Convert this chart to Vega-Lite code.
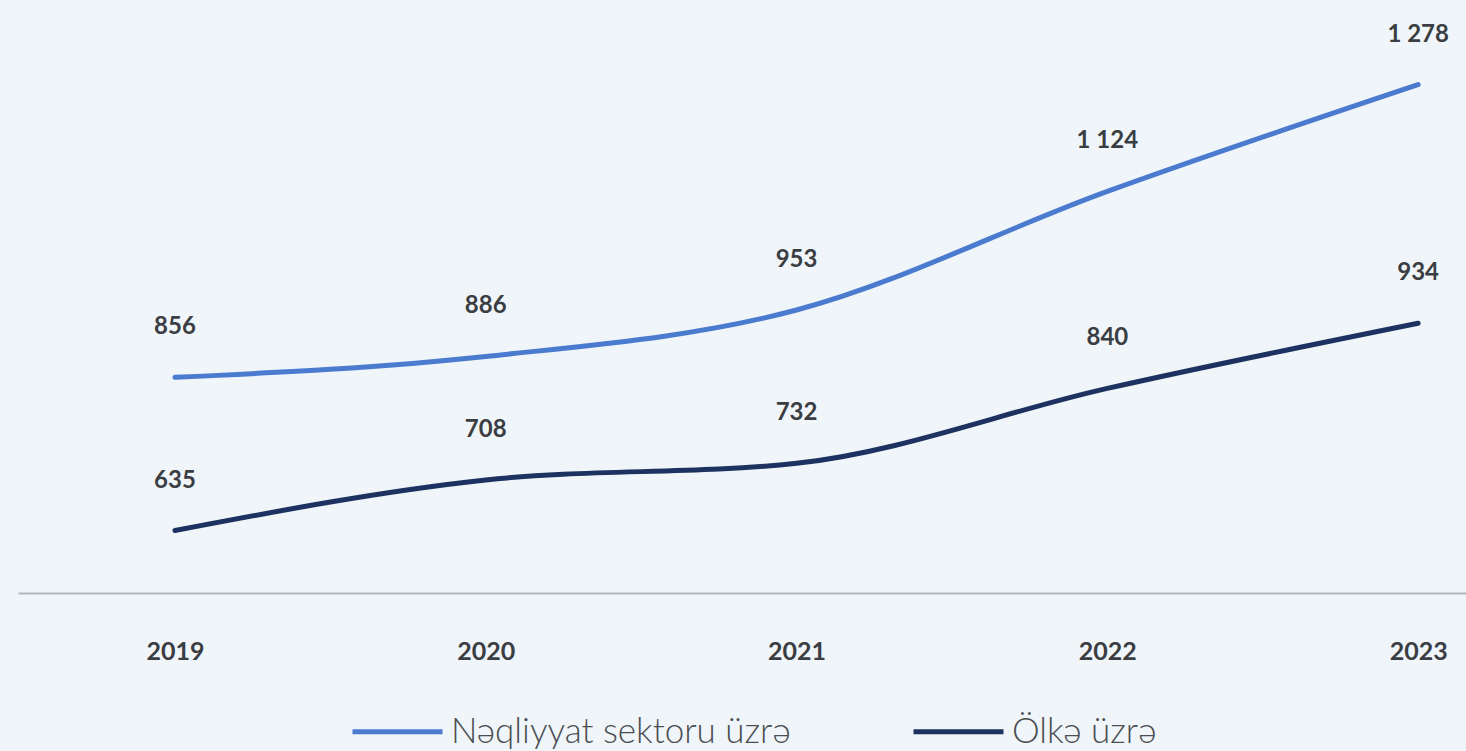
{
  "$schema": "https://vega.github.io/schema/vega-lite/v6.json",
  "width": 1448,
  "height": 593,
  "autosize": {"type": "none"},
  "padding": {"left": 18, "top": 0, "right": 0, "bottom": 158},
  "background": "#f0f5fa",
  "config": {
    "view": {"stroke": null},
    "font": "Lato",
    "locale": {"number": {"decimal": ".", "thousands": " ", "grouping": [3], "currency": ["", ""]}}
  },
  "data": {
    "values": [
      {"year": 2019, "series": "Nəqliyyat sektoru üzrə", "value": 856},
      {"year": 2020, "series": "Nəqliyyat sektoru üzrə", "value": 886},
      {"year": 2021, "series": "Nəqliyyat sektoru üzrə", "value": 953},
      {"year": 2022, "series": "Nəqliyyat sektoru üzrə", "value": 1124},
      {"year": 2023, "series": "Nəqliyyat sektoru üzrə", "value": 1278},
      {"year": 2019, "series": "Ölkə üzrə", "value": 635},
      {"year": 2020, "series": "Ölkə üzrə", "value": 708},
      {"year": 2021, "series": "Ölkə üzrə", "value": 732},
      {"year": 2022, "series": "Ölkə üzrə", "value": 840},
      {"year": 2023, "series": "Ölkə üzrə", "value": 934}
    ]
  },
  "encoding": {
    "x": {
      "field": "year",
      "type": "quantitative",
      "scale": {"domain": [2018.495, 2023.154], "nice": false, "zero": false},
      "axis": {
        "values": [2019, 2020, 2021, 2022, 2023],
        "format": "d",
        "title": null,
        "grid": false,
        "ticks": false,
        "domainColor": "#b3b6ba",
        "domainWidth": 2,
        "labelFont": "Lato",
        "labelFontWeight": "bold",
        "labelFontSize": 25,
        "labelColor": "#3a3d42",
        "labelPadding": 46
      }
    },
    "y": {
      "field": "value",
      "type": "quantitative",
      "scale": {"domain": [545, 1400], "nice": false, "zero": false},
      "axis": null
    }
  },
  "layer": [
    {
      "mark": {"type": "line", "interpolate": "monotone", "strokeWidth": 5, "strokeCap": "round"},
      "encoding": {
        "color": {
          "field": "series",
          "type": "nominal",
          "scale": {"domain": ["Nəqliyyat sektoru üzrə", "Ölkə üzrə"], "range": ["#4a7bcf", "#1d3260"]},
          "legend": {
            "title": null,
            "orient": "none",
            "legendX": 332,
            "legendY": 684,
            "direction": "horizontal",
            "symbolType": "stroke",
            "symbolSize": 8100,
            "symbolStrokeWidth": 5,
            "labelFont": "Lato",
            "labelFontWeight": 300,
            "labelFontSize": 35,
            "labelColor": "#4a4d52",
            "labelLimit": 600,
            "labelOffset": 6,
            "columnPadding": 112
          }
        }
      }
    },
    {
      "mark": {"type": "text", "dy": -50, "fontSize": 24, "fontWeight": "bold", "color": "#3a3d42", "font": "Lato"},
      "encoding": {
        "text": {"field": "value", "type": "quantitative", "format": ","}
      }
    }
  ]
}
